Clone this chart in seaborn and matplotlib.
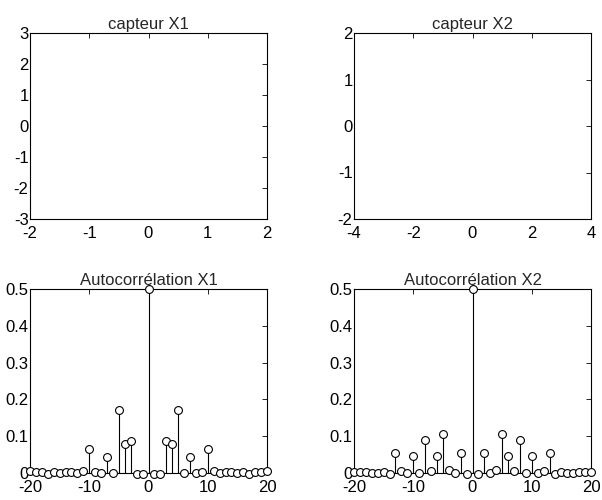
import numpy as np
import pandas as pd
import matplotlib
matplotlib.use('Agg')
import matplotlib.pyplot as plt
import seaborn as sns

# retards de l'autocorrélation
lags = list(range(-20, 21))

# autocorrélation capteur X1
acf_x1 = [0.005, 0.003, 0.002, -0.002, 0.003, 0.001, 0.004, 0.004, 0.001, 0.006,
          0.065, 0.003, 0.000, 0.043, 0.001, 0.170, 0.080, 0.087, -0.003, -0.002,
          0.500,
          -0.002, -0.003, 0.087, 0.080, 0.170, 0.001, 0.043, 0.000, 0.003, 0.065,
          0.006, 0.001, 0.004, 0.004, 0.001, 0.003, -0.002, 0.002, 0.003, 0.005]

# autocorrélation capteur X2
acf_x2 = [0.003, 0.003, 0.004, 0.000, 0.000, 0.003, -0.003, 0.055, 0.005, 0.000,
          0.047, 0.000, 0.090, 0.005, 0.047, 0.105, 0.008, 0.000, 0.055, -0.002,
          0.500,
          -0.002, 0.055, 0.000, 0.008, 0.105, 0.047, 0.005, 0.090, 0.000, 0.047,
          0.000, 0.005, 0.055, -0.003, 0.003, 0.000, 0.000, 0.004, 0.003, 0.003]

sns.set_theme(style='white')
plt.rcParams['font.family'] = ['Liberation Sans', 'DejaVu Sans']
plt.rcParams['axes.unicode_minus'] = False
FS = 12

fig = plt.figure(figsize=(6.02, 5), dpi=100)
W, H = 602, 500

def make_ax(x0, x1, y0, y1):
    ax = fig.add_axes([x0 / W, 1 - y1 / H, (x1 - x0) / W, (y1 - y0) / H])
    for s in ax.spines.values():
        s.set_color('black')
        s.set_linewidth(0.8)
    ax.tick_params(direction='in', length=3.5, width=0.6, colors='black',
                   labelsize=FS, top=True, right=True, labelcolor='black')
    ax.tick_params(axis='y', pad=1)
    ax.tick_params(axis='x', pad=5)
    return ax

# graphes des capteurs (vides)
ax1 = make_ax(30, 267, 33, 219)
ax1.set_xlim(-2, 2)
ax1.set_ylim(-3, 3)
ax1.set_xticks([-2, -1, 0, 1, 2])
ax1.set_yticks([-3, -2, -1, 0, 1, 2, 3])
ax1.set_title('capteur X1', fontsize=FS, pad=3)

ax2 = make_ax(354, 591, 33, 219)
ax2.set_xlim(-4, 4)
ax2.set_ylim(-2, 2)
ax2.set_xticks([-4, -2, 0, 2, 4])
ax2.set_yticks([-2, -1, 0, 1, 2])
ax2.set_title('capteur X2', fontsize=FS, pad=3)

# autocorrélations
yt = [0, 0.1, 0.2, 0.3, 0.4, 0.5]
ytl = ['0', '0.1', '0.2', '0.3', '0.4', '0.5']
for (x0, x1), vals, title in [((30, 267), acf_x1, 'Autocorrélation X1'),
                              ((354, 591), acf_x2, 'Autocorrélation X2')]:
    ax = make_ax(x0, x1, 289, 473)
    df = pd.DataFrame({'lag': lags, 'r': vals})
    ax.vlines(df['lag'], 0, df['r'], color='black', linewidth=0.8)
    sns.scatterplot(data=df, x='lag', y='r', ax=ax, marker='o', s=32,
                    facecolor='white', edgecolor='black', linewidth=0.8,
                    zorder=3, clip_on=False)
    ax.set_xlim(-20, 20)
    ax.set_ylim(0, 0.5)
    ax.set_xticks([-20, -10, 0, 10, 20])
    ax.set_yticks(yt)
    ax.set_yticklabels(ytl)
    ax.set_xlabel('')
    ax.set_ylabel('')
    ax.set_title(title, fontsize=FS, pad=3)

fig.savefig('out.png', dpi=100)
